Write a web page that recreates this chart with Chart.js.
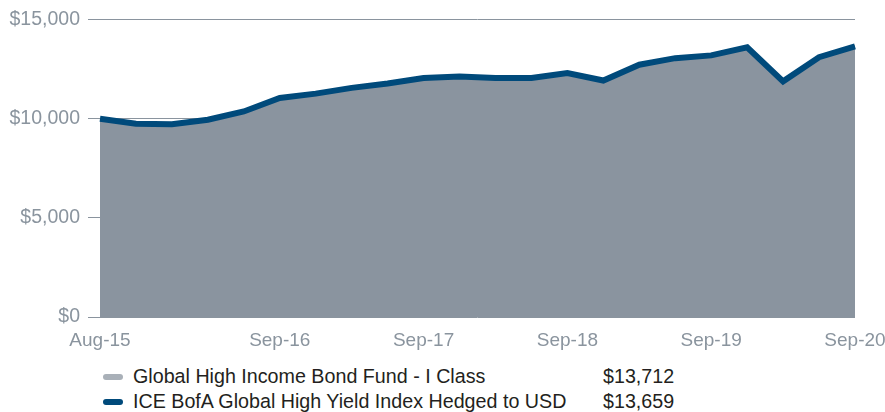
<!DOCTYPE html>
<html>
<head>
<meta charset="utf-8">
<script src="https://cdn.jsdelivr.net/npm/chart.js@4/dist/chart.umd.min.js"></script>
<style>
  body { margin: 0; background: #fff; font-family: "Liberation Sans", Arial, sans-serif; }
  .wrap { position: relative; width: 885px; height: 412px; }
  #growth { position: absolute; left: 0; top: 0; }
  .legend { position: absolute; left: 103px; top: 364px; color: #231f20; font-size: 19.7px; }
  .legend .row { position: relative; height: 25px; line-height: 25px; white-space: nowrap; }
  .legend .swatch { position: absolute; left: 0; top: 10px; width: 20px; height: 6px; border-radius: 3px; }
  .legend .name { position: absolute; left: 30px; }
  .legend .value { position: absolute; left: 500px; }
</style>
</head>
<body>
<div class="wrap">
  <canvas id="growth" width="885" height="350"></canvas>
  <div class="legend" id="legend"></div>
</div>
<script>
const periods = ['Aug-15', 'Sep-15', 'Dec-15', 'Mar-16', 'Jun-16', 'Sep-16', 'Dec-16', 'Mar-17',
  'Jun-17', 'Sep-17', 'Dec-17', 'Mar-18', 'Jun-18', 'Sep-18', 'Dec-18', 'Mar-19', 'Jun-19',
  'Sep-19', 'Dec-19', 'Mar-20', 'Jun-20', 'Sep-20'];
const tickLabels = ['Aug-15', 'Sep-16', 'Sep-17', 'Sep-18', 'Sep-19', 'Sep-20'];

const fundName = 'Global High Income Bond Fund - I Class';
const fundValues = [10000, 9720, 9680, 9930, 10350, 11000, 11230, 11520, 11750, 12030, 12100,
  12020, 12020, 12270, 11900, 12700, 13040, 13190, 13600, 11870, 13120, 13712];

const indexName = 'ICE BofA Global High Yield Index Hedged to USD';
const indexValues = [10000, 9750, 9720, 9950, 10370, 11050, 11270, 11560, 11780, 12060, 12140,
  12060, 12060, 12310, 11930, 12730, 13060, 13200, 13610, 11890, 13110, 13659];

const grey = '#8a949e';
const money = v => '$' + v.toLocaleString('en-US');

new Chart(document.getElementById('growth'), {
  type: 'line',
  data: {
    labels: periods,
    datasets: [
      {
        label: indexName,
        data: indexValues,
        borderColor: '#004a7b',
        borderWidth: 6,
        pointRadius: 0,
        fill: false,
        tension: 0,
        order: 0
      },
      {
        label: fundName,
        data: fundValues,
        backgroundColor: '#8a949f',
        borderWidth: 0,
        pointRadius: 0,
        fill: 'origin',
        tension: 0,
        order: 1
      }
    ]
  },
  options: {
    responsive: false,
    animation: false,
    devicePixelRatio: 1,
    layout: { padding: { top: 18, right: 30, left: 0, bottom: 0 } },
    plugins: { legend: { display: false }, tooltip: { enabled: false } },
    scales: {
      x: {
        offset: false,
        grid: { display: false },
        border: { display: false },
        ticks: {
          autoSkip: false,
          maxRotation: 0,
          padding: 4,
          color: grey,
          font: { family: 'Liberation Sans', size: 19 },
          callback: function (value) {
            const lbl = this.getLabelForValue(value);
            return tickLabels.includes(lbl) ? lbl : '';
          }
        },
        // fixed axis height; let the edge labels hang into the page margins
        afterFit: scale => {
          scale.height = 33;
          scale.paddingLeft = 0;
          scale.paddingRight = 0;
        }
      },
      y: {
        min: 0,
        max: 15000,
        border: { display: false },
        grid: { color: grey, lineWidth: 1, tickLength: 12 },
        ticks: {
          stepSize: 5000,
          padding: 8,
          color: grey,
          font: { family: 'Liberation Sans', size: 19.5 },
          callback: v => money(v)
        },
        afterFit: scale => { scale.width = 100; }
      }
    }
  }
});

// legend with ending values
const legend = document.getElementById('legend');
[
  { name: fundName, color: '#a9b0b8', values: fundValues },
  { name: indexName, color: '#004a7b', values: indexValues }
].forEach(item => {
  const row = document.createElement('div');
  row.className = 'row';
  row.innerHTML = '<span class="swatch" style="background:' + item.color + '"></span>' +
    '<span class="name">' + item.name + '</span>' +
    '<span class="value">' + money(item.values[item.values.length - 1]) + '</span>';
  legend.appendChild(row);
});
</script>
</body>
</html>
